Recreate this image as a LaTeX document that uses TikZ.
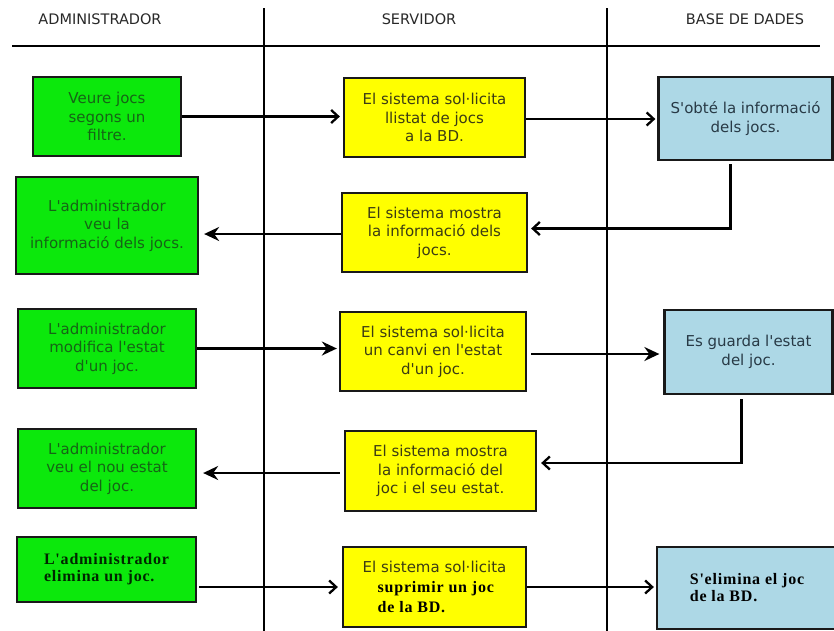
\documentclass[tikz,border=0pt]{standalone}
\usepackage{fontspec}
\newfontfamily\dv{DejaVu Sans}
\newfontfamily\ser[LetterSpace=5]{Liberation Serif}
\usetikzlibrary{arrows.meta}
\definecolor{boxgreen}{RGB}{12,232,12}
\definecolor{boxyellow}{RGB}{255,255,0}
\definecolor{boxblue}{RGB}{173,216,230}
\definecolor{txtgreen}{RGB}{22,100,22}
\definecolor{txtolive}{RGB}{60,60,20}
\definecolor{txtblue}{RGB}{40,58,70}
\definecolor{hdr}{RGB}{40,40,40}
\definecolor{edge}{RGB}{25,25,25}

\begin{document}
\begin{tikzpicture}[x=1pt,y=-1pt,
  box/.style={draw=edge, line width=2.3pt, inner sep=0pt, align=center,
    font=\dv\fontsize{15}{18.5}\selectfont},
  admin/.style={box, fill=boxgreen, text=txtgreen},
  serv/.style={box, fill=boxyellow, text=txtolive},
  bd/.style={box, fill=boxblue, text=txtblue},
  boldrow/.style={align=left, font=\ser\bfseries\fontsize{16}{17}\selectfont},
  lane/.style={line width=2.2pt, draw=black},
  hdrtext/.style={text=hdr, font=\dv\fontsize{14.5}{17}\selectfont},
  flow/.style={line width=2.3pt, draw=black},
  barb/.style={flow, -{Straight Barb[length=7pt,width=13pt]}},
  tipfill/.style={flow, -{Stealth[length=15pt,width=14pt,inset=5pt]}},
]

\useasboundingbox (0,0) rectangle (834,630);

% swimlane headers and separators
\node[hdrtext] (hadm) at (100,19) {ADMINISTRADOR};
\node[hdrtext] (hsrv) at (419,19) {SERVIDOR};
\node[hdrtext] (hbd)  at (745,19) {BASE DE DADES};
\draw[lane] (12,46) -- (820,46);
\draw[lane] (264,8) -- (264,632);
\draw[lane] (607,8) -- (607,632);

% row 1
\node[admin, minimum width=148pt, minimum height=79pt] (g1) at (107,116.5)
  {Veure jocs\\segons un\\filtre.};
\node[serv, minimum width=181pt, minimum height=79pt] (y1) at (434.5,117.5)
  {El sistema sol·licita\\llistat de jocs\\a la BD.};
\node[bd, minimum width=174pt, minimum height=83pt] (b1) at (745.5,118.5)
  {S'obté la informació\\dels jocs.};

% row 2
\node[admin, minimum width=182pt, minimum height=97pt] (g2) at (107,225.5)
  {L'administrador\\veu la\\informació dels jocs.};
\node[serv, minimum width=185pt, minimum height=79pt] (y2) at (434.5,232.5)
  {El sistema mostra\\la informació dels\\jocs.};

% row 3
\node[admin, minimum width=178pt, minimum height=79pt] (g3) at (107,348.5)
  {L'administrador\\modifica l'estat\\d'un joc.};
\node[serv, minimum width=186pt, minimum height=79pt] (y3) at (433,351.5)
  {El sistema sol·licita\\un canvi en l'estat\\d'un joc.};
\node[bd, minimum width=168pt, minimum height=84pt] (b3) at (748.5,352)
  {Es guarda l'estat\\del joc.};

% row 4
\node[admin, minimum width=178pt, minimum height=79pt] (g4) at (107,468.5)
  {L'administrador\\veu el nou estat\\del joc.};
\node[serv, minimum width=191pt, minimum height=80pt] (y4) at (440.5,471)
  {El sistema mostra\\la informació del\\joc i el seu estat.};

% row 5
\node[admin, boldrow, text=black!85!green, minimum width=179pt, minimum height=65pt] (g5) at (106.5,569.5)
  {L'administrador\\elimina un joc.};
\node[serv, align=left, minimum width=183pt, minimum height=80pt,
  font=\dv\fontsize{15}{20}\selectfont] (y5) at (434.5,587)
  {El sistema sol·licita\\\hspace*{15pt}{\ser\bfseries\fontsize{16}{20}\selectfont\color{black}suprimir un joc}\\\hspace*{15pt}{\ser\bfseries\fontsize{16}{20}\selectfont\color{black}de la BD.}};
\node[bd, boldrow, text=black, minimum width=180pt, minimum height=82pt] (b5) at (747,588)
  {S'elimina el joc\\de la BD.};

% flow connectors
\draw[barb, shorten >=3pt] (g1.east) -- (g1.east -| y1.west);
\draw[barb, shorten >=2pt] ([yshift=-1.5pt]y1.east) -- ([yshift=-1.5pt]y1.east -| b1.west);
\draw[barb, shorten <=3pt, shorten >=3pt] ([xshift=-15pt]b1.south) |- ([yshift=4pt]y2.east);
\draw[tipfill, shorten >=5pt] ([yshift=-1.5pt]y2.west) -- ([yshift=-1.5pt]y2.west -| g2.east);
\draw[tipfill, shorten >=2pt] (g3.east) -- (g3.east -| y3.west);
\draw[tipfill, shorten <=4pt, shorten >=4pt] ([yshift=-2.5pt]y3.east) -- ([yshift=-2.5pt]y3.east -| b3.west);
\draw[barb, shorten <=4pt, shorten >=4pt] ([xshift=-7pt]b3.south) |- ([yshift=8pt]y4.east);
\draw[tipfill, shorten <=4pt, shorten >=6pt] ([yshift=-2pt]y4.west) -- ([yshift=-2pt]y4.west -| g4.east);
\draw[barb, shorten <=2pt, shorten >=4pt] (y5.west -| g5.east) -- (y5.west);
\draw[barb, shorten >=2pt] (y5.east) -- (y5.east -| b5.west);
\end{tikzpicture}
\end{document}
